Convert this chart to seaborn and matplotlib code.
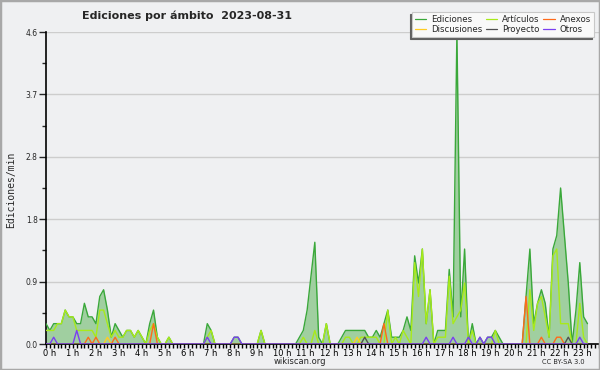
import numpy as np
import pandas as pd
import matplotlib
matplotlib.use("Agg")
import matplotlib.pyplot as plt
import matplotlib.transforms as mtrans
import seaborn as sns
from matplotlib.patches import Rectangle
from matplotlib.lines import Line2D
from matplotlib.ticker import FixedLocator, MultipleLocator

# ---- data: edits per minute, 10-minute buckets, 2023-08-31 ----
hour_labels = [f"{h} h" for h in range(24)]

ediciones = [
    0.3, 0.2, 0.3, 0.3, 0.3, 0.5,   # 0 h
    0.4, 0.4, 0.3, 0.3, 0.6, 0.4,   # 1 h
    0.4, 0.3, 0.7, 0.8, 0.5, 0.1,   # 2 h
    0.3, 0.2, 0.1, 0.2, 0.2, 0.1,   # 3 h
    0.2, 0.1, 0.0, 0.3, 0.5, 0.1,   # 4 h
    0.0, 0.0, 0.1, 0.0, 0.0, 0.0,   # 5 h
    0.0, 0.0, 0.0, 0.0, 0.0, 0.0,   # 6 h
    0.3, 0.2, 0.0, 0.0, 0.0, 0.0,   # 7 h
    0.0, 0.1, 0.1, 0.0, 0.0, 0.0,   # 8 h
    0.0, 0.0, 0.2, 0.0, 0.0, 0.0,   # 9 h
    0.0, 0.0, 0.0, 0.0, 0.0, 0.0,   # 10 h
    0.1, 0.2, 0.5, 1.0, 1.5, 0.1,   # 11 h
    0.0, 0.3, 0.0, 0.0, 0.0, 0.1,   # 12 h
    0.2, 0.2, 0.2, 0.2, 0.2, 0.2,   # 13 h
    0.1, 0.1, 0.2, 0.1, 0.3, 0.5,   # 14 h
    0.1, 0.1, 0.1, 0.2, 0.4, 0.2,   # 15 h
    1.3, 0.9, 1.4, 0.3, 0.8, 0.0,   # 16 h
    0.2, 0.2, 0.2, 1.1, 0.4, 4.6,   # 17 h
    0.4, 1.4, 0.0, 0.3, 0.0, 0.1,   # 18 h
    0.0, 0.1, 0.1, 0.2, 0.1, 0.0,   # 19 h
    0.0, 0.0, 0.0, 0.0, 0.0, 0.7,   # 20 h
    1.4, 0.3, 0.6, 0.8, 0.6, 0.1,   # 21 h
    1.4, 1.6, 2.3, 1.6, 0.9, 0.0,   # 22 h
    0.5, 1.2, 0.4, 0.3,             # 23 h
]

articulos = [
    0.2, 0.2, 0.2, 0.3, 0.3, 0.5,
    0.4, 0.4, 0.2, 0.2, 0.2, 0.2,
    0.2, 0.1, 0.5, 0.5, 0.3, 0.1,
    0.2, 0.1, 0.1, 0.2, 0.2, 0.1,
    0.2, 0.1, 0.0, 0.2, 0.3, 0.1,
    0.0, 0.0, 0.1, 0.0, 0.0, 0.0,
    0.0, 0.0, 0.0, 0.0, 0.0, 0.0,
    0.1, 0.2, 0.0, 0.0, 0.0, 0.0,
    0.0, 0.0, 0.0, 0.0, 0.0, 0.0,
    0.0, 0.0, 0.2, 0.0, 0.0, 0.0,
    0.0, 0.0, 0.0, 0.0, 0.0, 0.0,
    0.0, 0.1, 0.0, 0.0, 0.2, 0.0,
    0.0, 0.3, 0.0, 0.0, 0.0, 0.0,
    0.1, 0.1, 0.0, 0.0, 0.1, 0.1,
    0.1, 0.1, 0.1, 0.0, 0.0, 0.5,
    0.0, 0.1, 0.0, 0.2, 0.1, 0.0,
    1.2, 0.7, 1.4, 0.3, 0.8, 0.0,
    0.1, 0.1, 0.1, 1.0, 0.3, 0.4,
    0.5, 0.9, 0.0, 0.2, 0.0, 0.0,
    0.0, 0.0, 0.0, 0.2, 0.0, 0.0,
    0.0, 0.0, 0.0, 0.0, 0.0, 0.0,
    0.8, 0.2, 0.6, 0.7, 0.4, 0.1,
    1.3, 1.4, 0.3, 0.3, 0.3, 0.0,
    0.0, 0.6, 0.1, 0.0,
]

anexos = [
    0.0, 0.0, 0.0, 0.0, 0.0, 0.0,
    0.0, 0.0, 0.0, 0.0, 0.0, 0.1,
    0.0, 0.1, 0.0, 0.0, 0.0, 0.0,
    0.1, 0.0, 0.0, 0.0, 0.0, 0.0,
    0.0, 0.0, 0.0, 0.0, 0.3, 0.0,
    0.0, 0.0, 0.0, 0.0, 0.0, 0.0,
    0.0, 0.0, 0.0, 0.0, 0.0, 0.0,
    0.0, 0.0, 0.0, 0.0, 0.0, 0.0,
    0.0, 0.0, 0.0, 0.0, 0.0, 0.0,
    0.0, 0.0, 0.0, 0.0, 0.0, 0.0,
    0.0, 0.0, 0.0, 0.0, 0.0, 0.0,
    0.0, 0.0, 0.0, 0.0, 0.0, 0.0,
    0.0, 0.0, 0.0, 0.0, 0.0, 0.0,
    0.0, 0.0, 0.0, 0.0, 0.0, 0.0,
    0.0, 0.0, 0.0, 0.0, 0.3, 0.0,
    0.0, 0.0, 0.0, 0.0, 0.0, 0.0,
    0.0, 0.0, 0.0, 0.0, 0.0, 0.0,
    0.0, 0.0, 0.0, 0.0, 0.0, 0.0,
    0.0, 0.0, 0.0, 0.0, 0.0, 0.0,
    0.0, 0.0, 0.0, 0.0, 0.0, 0.0,
    0.0, 0.0, 0.0, 0.0, 0.0, 0.7,
    0.0, 0.0, 0.0, 0.1, 0.0, 0.0,
    0.0, 0.1, 0.1, 0.0, 0.0, 0.0,
    0.0, 0.0, 0.0, 0.0,
]

discusiones = [0.0] * 16 + [0.1] + [0.0] * 64 + [0.1] + [0.0] * 60
proyecto = [0.0] * 83 + [0.1] + [0.0] * 52 + [0.1] + [0.0] * 5

otros = [
    0.0, 0.0, 0.1, 0.0, 0.0, 0.0,
    0.0, 0.0, 0.2, 0.0, 0.0, 0.0,
    0.0, 0.0, 0.0, 0.0, 0.0, 0.0,
    0.0, 0.0, 0.0, 0.0, 0.0, 0.0,
    0.0, 0.0, 0.0, 0.0, 0.0, 0.0,
    0.0, 0.0, 0.0, 0.0, 0.0, 0.0,
    0.0, 0.0, 0.0, 0.0, 0.0, 0.0,
    0.1, 0.0, 0.0, 0.0, 0.0, 0.0,
    0.0, 0.1, 0.1, 0.0, 0.0, 0.0,
    0.0, 0.0, 0.0, 0.0, 0.0, 0.0,
    0.0, 0.0, 0.0, 0.0, 0.0, 0.0,
    0.0, 0.0, 0.0, 0.0, 0.0, 0.0,
    0.0, 0.0, 0.0, 0.0, 0.0, 0.0,
    0.0, 0.0, 0.0, 0.0, 0.0, 0.0,
    0.0, 0.0, 0.0, 0.0, 0.0, 0.0,
    0.0, 0.0, 0.0, 0.0, 0.0, 0.0,
    0.0, 0.0, 0.0, 0.1, 0.0, 0.0,
    0.0, 0.0, 0.0, 0.0, 0.1, 0.0,
    0.0, 0.0, 0.1, 0.0, 0.0, 0.1,
    0.0, 0.1, 0.1, 0.0, 0.0, 0.0,
    0.0, 0.0, 0.0, 0.0, 0.0, 0.0,
    0.0, 0.0, 0.0, 0.0, 0.0, 0.0,
    0.0, 0.0, 0.0, 0.0, 0.0, 0.0,
    0.0, 0.1, 0.0, 0.0,
]

series_names = ["Ediciones", "Artículos", "Anexos", "Discusiones", "Proyecto", "Otros"]
series_values = [ediciones, articulos, anexos, discusiones, proyecto, otros]
series_colors = ["#3aa83a", "#a8ea1a", "#ff6a1a", "#ffcc22", "#505050", "#7a3ff0"]

n = len(ediciones)
hours = np.arange(n) / 6.0
frames = []
for name, vals in zip(series_names, series_values):
    frames.append(pd.DataFrame({"hora": hours, "valor": vals, "ambito": name}))
df = pd.concat(frames, ignore_index=True)

# ---- style ----
BG = "#eff0f2"
sns.set_style("ticks", {"axes.facecolor": BG, "figure.facecolor": BG})
plt.rcParams["font.family"] = ["DejaVu Sans"]

fig = plt.figure(figsize=(6.0, 3.7), dpi=100, facecolor=BG)
ax = fig.add_axes([46 / 600, 26 / 370, 553 / 600, 312 / 370])
ax.set_facecolor(BG)

ymax = 4.6
yticks = [ymax * k / 5 for k in range(6)]
for yv in yticks[1:]:
    ax.axhline(yv, color="#cdcdcd", lw=1.0, zorder=0)

ax.fill_between(hours, ediciones, color="#a0cfa0", lw=0, zorder=1)

palette = dict(zip(series_names, series_colors))
sns.lineplot(data=df, x="hora", y="valor", hue="ambito", hue_order=series_names,
             palette=palette, linewidth=1.0, ax=ax, legend=False, zorder=3,
             estimator=None)

ax.set_xlim(0, 24)
ax.set_ylim(0, ymax)
ax.set_xlabel("")
ax.set_ylabel("")

ax.yaxis.set_major_locator(FixedLocator(yticks))
ax.set_yticklabels([f"{v:.1f}" for v in yticks])
ax.yaxis.set_minor_locator(FixedLocator([ymax * (k + 0.5) / 5 for k in range(5)]))
ax.xaxis.set_major_locator(FixedLocator(list(range(24))))
ax.set_xticklabels(hour_labels)
ax.xaxis.set_minor_locator(MultipleLocator(1 / 6))

ax.tick_params(axis="x", which="both", direction="out", length=3, width=1,
               labelsize=6.0, pad=0.5, colors="black")
ax.tick_params(axis="y", which="major", direction="out", length=5, width=1,
               labelsize=5.5, pad=1)
ax.tick_params(axis="y", which="minor", direction="out", length=3, width=1)
offset = mtrans.ScaledTranslation(-3 / 100, 0, fig.dpi_scale_trans)
for lbl in ax.get_xticklabels():
    lbl.set_horizontalalignment("left")
    lbl.set_transform(lbl.get_transform() + offset)

for s in ["top", "right"]:
    ax.spines[s].set_visible(False)
ax.spines["left"].set_color("black")
ax.spines["bottom"].set_color("black")
ax.spines["left"].set_linewidth(1.2)
ax.spines["bottom"].set_linewidth(1.2)

# legend
order = ["Ediciones", "Discusiones", "Artículos", "Proyecto", "Anexos", "Otros"]
handles = [Line2D([], [], color=palette[nm], lw=0.9) for nm in order]
leg = fig.legend(handles, order, ncol=3, loc="upper right",
                 bbox_to_anchor=(594 / 600, 1 - 12 / 370), fontsize=6.2,
                 frameon=True, fancybox=False, handlelength=1.3, handletextpad=0.6,
                 columnspacing=0.4, labelspacing=0.15, borderpad=0.35,
                 borderaxespad=0,
                 shadow={"ox": -1.5, "oy": -1.5, "color": "#606060", "alpha": 1})
leg.get_frame().set_facecolor("#f9f9f9")
leg.get_frame().set_edgecolor("#c8c8c8")
leg.get_frame().set_linewidth(0.8)

# texts
fig.text(187 / 600, 1 - 16 / 370, "Ediciones por ámbito  2023-08-31",
         ha="center", va="center", fontsize=8.0, fontweight="bold")
fig.text(11 / 600, 1 - 190 / 370, "Ediciones/min", rotation=90,
         ha="center", va="center", fontsize=7, family="DejaVu Sans Mono")
fig.text(300 / 600, 1 - 362 / 370, "wikiscan.org", ha="center", va="center",
         fontsize=6.0)
fig.text(563 / 600, 1 - 362 / 370, "CC BY-SA 3.0", ha="center", va="center",
         fontsize=4.8)

fig.patches.append(Rectangle((0, 0), 1, 1, transform=fig.transFigure,
                             fill=False, edgecolor="#a8a8a8", lw=2.5))

fig.savefig("out.png", dpi=100, facecolor=BG)
